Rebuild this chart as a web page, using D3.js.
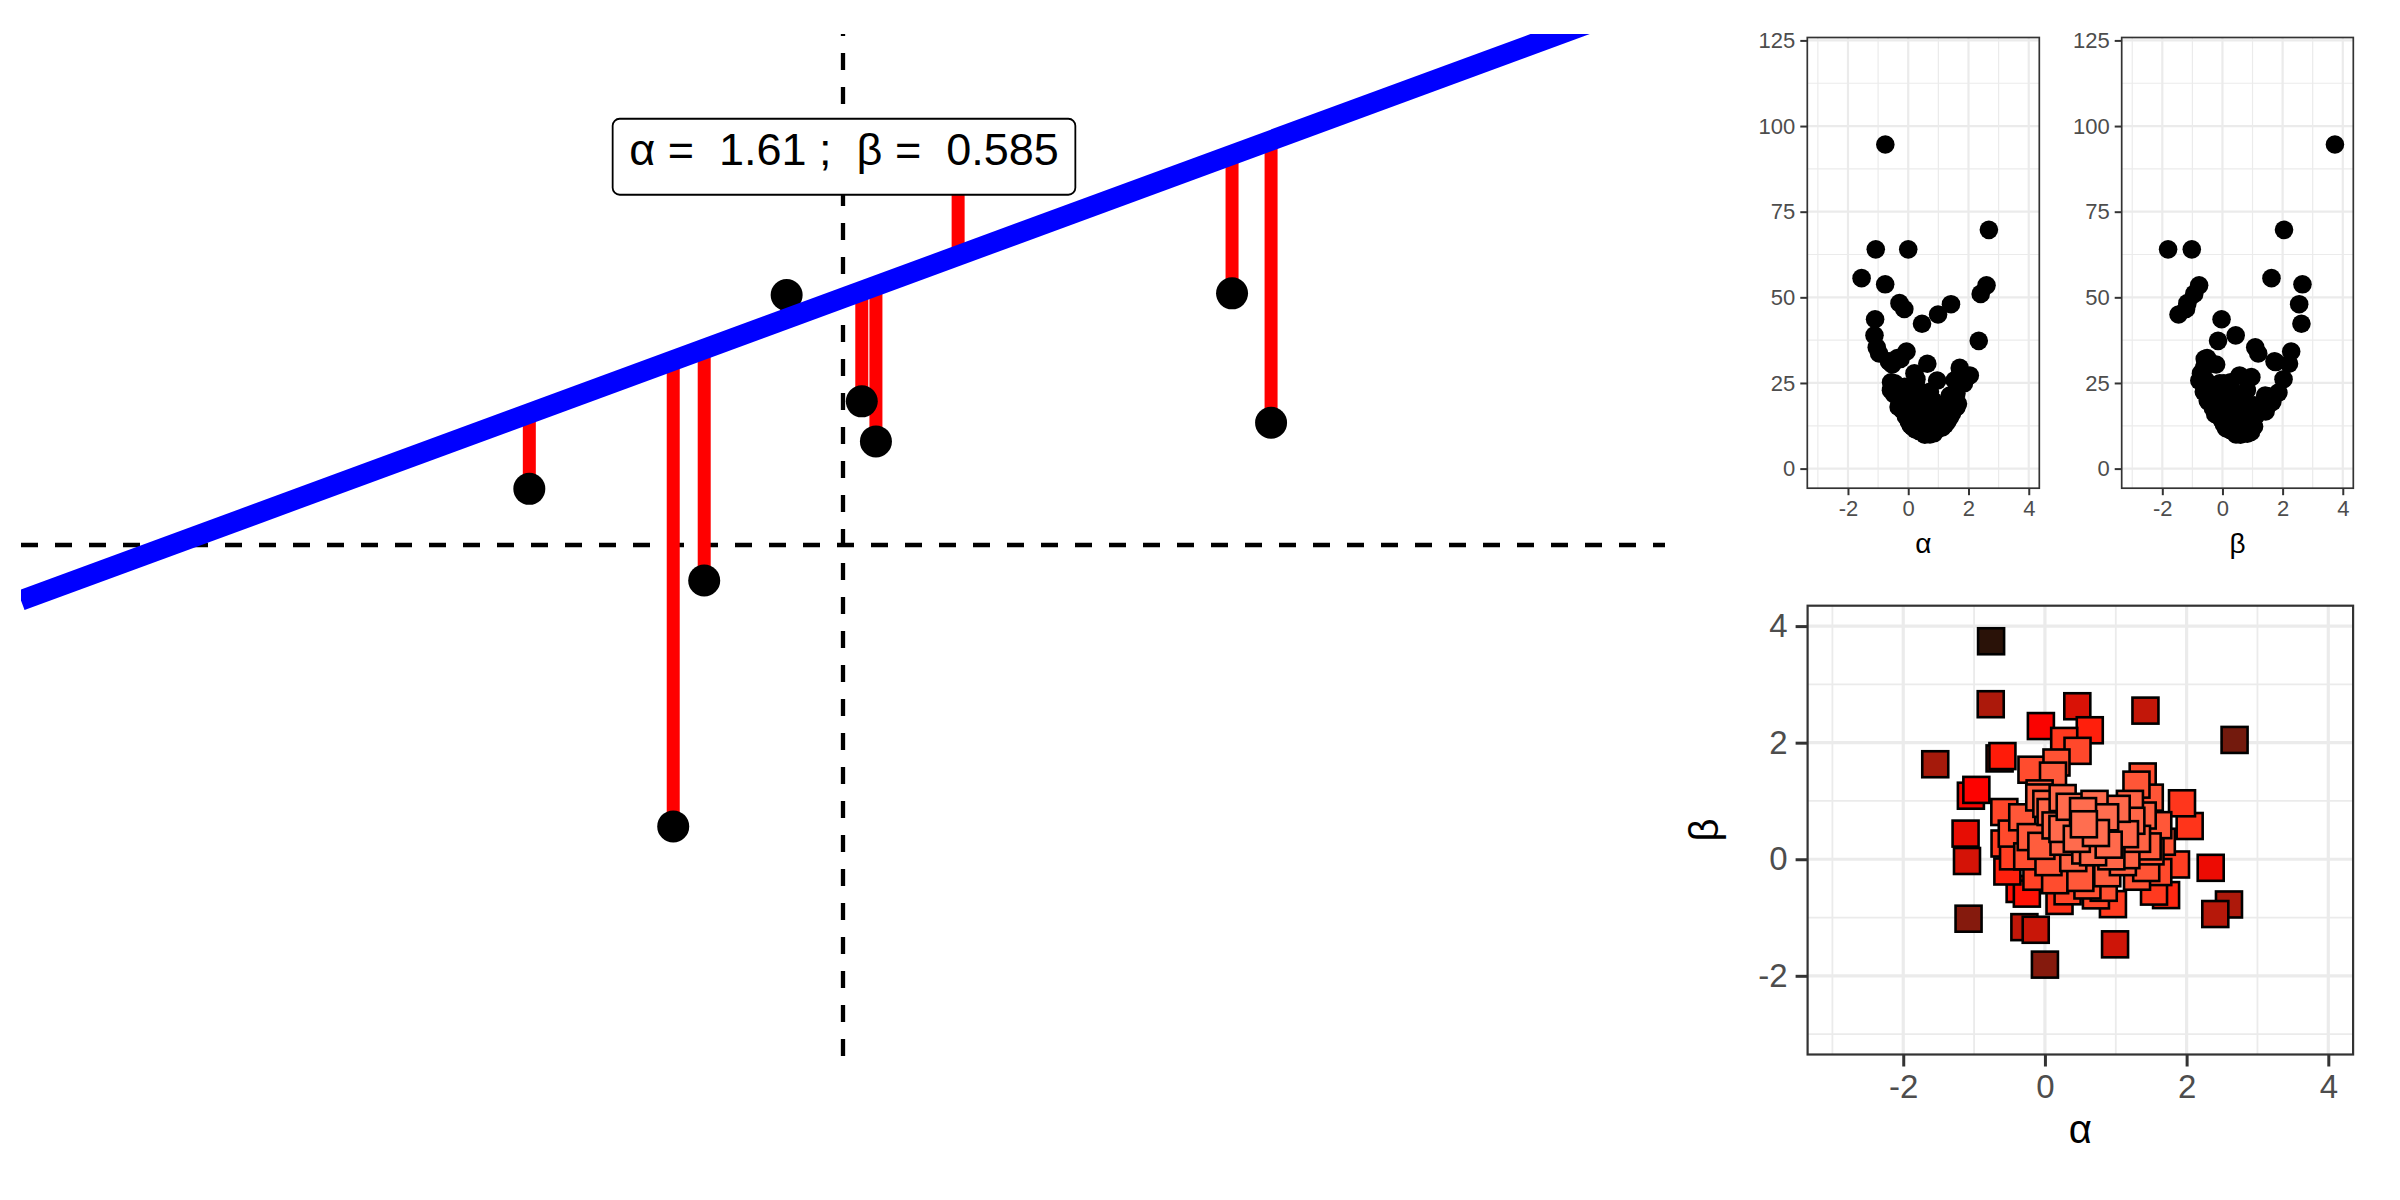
<!DOCTYPE html>
<html><head><meta charset="utf-8">
<script src="https://cdn.jsdelivr.net/npm/d3@7"></script>
<style>body{margin:0;background:#fff}svg{display:block;font-family:"Liberation Sans",Arial,sans-serif}</style>
</head><body><svg id="c" width="2400" height="1200"></svg>
<script>
// ---- main panel data ----
const obsX = [-1.286,-0.696,-0.569,-0.231,0.077,0.135,1.595,1.755,0.472];
const obsY = [0.366,-1.834,-0.231,1.629,0.936,0.675,1.640,0.797,2.58];
const fitAlpha = 1.61, fitBeta = 0.585;
const labelText = "α =  1.61 ;  β =  0.585";
// ---- parameter draws (alpha, beta) and their loss ----
const alphaDraws = [-0.76,-0.765,0.457,1.419,-0.057,0.633,2.677,0.272,0.46,-1.548,-0.6,-0.64,0.163,-0.19,0.114,1.38,1.292,-0.968,-1.045,-0.075,1.48,1.935,-0.573,0.08,0.538,1.013,-0.468,-1.12,1.6,2.043,0.262,-0.57,-1.1,0.938,1.49,1.85,2.34,-0.53,0.144,-0.357,-0.255,0.83,1.54,1.71,0.96,0.206,2.405,2.598,-1.078,-0.29,-0.13,0.99,0.0,-0.05,1.13,0.247,0.6,0.57,1.43,1.15,-0.08,0.35,0.55,0.72,0.85,1.22,1.3,0.4,0.68,0.15,-0.2,-0.32,0.25,1.1,0.88,0.5,0.32,-0.12,1.3,0.72,0.02,1.45,1.6,0.45,0.9,-0.25,0.05,1.2,0.7,-0.45,1.65,1.38];
const betaDraws = [3.74,2.66,2.625,2.55,2.285,2.213,2.047,2.03,1.86,1.63,1.77,1.73,1.66,1.536,1.435,1.42,1.28,1.19,1.09,1.13,1.057,0.96,0.81,0.81,0.826,0.865,0.44,0.44,0.585,0.57,0.3,0.27,-0.03,0.05,0.135,-0.09,-0.147,-0.21,-0.36,-0.51,-0.59,-0.49,-0.555,-0.615,-0.77,-0.715,-0.94,-0.776,-1.02,-1.165,-1.21,-1.46,-1.808,0.23,0.43,0.52,-0.45,0.15,-0.15,0.07,1.06,0.9,0.6,0.45,0.72,0.66,0.35,0.02,0.12,0.58,0.38,0.72,1.05,-0.05,-0.24,-0.32,-0.55,-0.3,-0.3,-0.62,0.95,0.22,-0.22,0.35,0.25,0.05,-0.05,0.95,0.95,0.05,0.3,0.75];
const sseDraws = [94.6,53.8,42.3,48.0,34.2,30.6,69.7,26.1,22.2,55.6,31.1,31.3,
 19.5,21.1,16.7,21.3,18.1,33.6,35.4,15.7,18.5,26.7,22.9,12.7,
 10.2,11.7,21.7,38.9,17.9,27.2,12.3,25.2,43.6,12.9,17.1,24.9,
 37.3,30.4,21.3,32.3,32.0,19.8,25.8,29.4,25.7,27.8,51.0,53.5,
 64.0,48.3,46.6,45.0,64.0,16.1,12.0,11.4,19.5,11.8,18.8,13.9,
 15.3,11.0,9.9,10.0,10.3,12.8,13.8,13.7,11.8,12.1,17.2,18.0,
 12.3,14.6,15.9,17.7,23.1,23.9,19.2,22.4,13.7,
 16.1,21.9,10.9,11.3,21.0,17.7,13.9,10.7,24.9,18.9,15.0];
const topXTicks = [-2,0,2,4];
const topYTicks = [0,25,50,75,100,125];
const botTicks = [-2,0,2,4];
const fillStops = [9.9,33,64,94.6];
const fillColors = ["#FF6E50","#FF0000","#851A0D","#2A1208"];

const svg = d3.select("#c");
const fmt = d => String(d);

// ===== main panel =====
const mx = d3.scaleLinear([-3.37,3.37],[21,1665]);
const my = d3.scaleLinear([-3.33,3.33],[1056,34]);
svg.append("clipPath").attr("id","mclip").append("rect").attr("x",21).attr("y",34).attr("width",1644).attr("height",1022);
const mg = svg.append("g").attr("clip-path","url(#mclip)");
mg.append("line").attr("x1",mx(-3.37)).attr("x2",mx(3.37)).attr("y1",my(0)).attr("y2",my(0))
  .attr("stroke","#000").attr("stroke-width",4.3).attr("stroke-dasharray","17,17");
mg.append("line").attr("x1",mx(0)).attr("x2",mx(0)).attr("y1",my(-3.33)).attr("y2",my(3.33))
  .attr("stroke","#000").attr("stroke-width",4.3).attr("stroke-dasharray","17,17");
const obs = obsX.map((x,i)=>({x,y:obsY[i]}));
mg.selectAll("line.res").data(obs).join("line").attr("class","res")
  .attr("x1",d=>mx(d.x)).attr("x2",d=>mx(d.x)).attr("y1",d=>my(d.y)).attr("y2",d=>my(fitAlpha+fitBeta*d.x))
  .attr("stroke","#FF0000").attr("stroke-width",13);
mg.selectAll("circle.obs").data(obs).join("circle").attr("class","obs")
  .attr("cx",d=>mx(d.x)).attr("cy",d=>my(d.y)).attr("r",16).attr("fill","#000");
mg.append("line").attr("x1",mx(-3.37)).attr("x2",mx(3.37))
  .attr("y1",my(fitAlpha+fitBeta*-3.37)).attr("y2",my(fitAlpha+fitBeta*3.37))
  .attr("stroke","#0000FF").attr("stroke-width",20.5);
// label
const labY = 2.53;
const lg = svg.append("g");
const lt = lg.append("text").attr("x",mx(0)+1).attr("y",my(labY)+8).attr("text-anchor","middle")
  .attr("font-size",45).attr("fill","#000").attr("xml:space","preserve").style("white-space","pre").text(labelText);
const tw = lt.node().getComputedTextLength();
lg.insert("rect","text").attr("x",mx(0)+1-tw/2-16.5).attr("y",my(labY)-38).attr("width",tw+33).attr("height",76)
  .attr("rx",7).attr("ry",7).attr("fill","#fff").attr("stroke","#000").attr("stroke-width",1.8);

// ===== helpers for bw panels =====
function panel(g, xs, ys, o){
  const [x0,x1]=xs.range(), [y0,y1]=ys.range();
  g.append("rect").attr("x",x0).attr("y",y1).attr("width",x1-x0).attr("height",y0-y1).attr("fill","#fff");
  o.xMinor.forEach(v=>g.append("line").attr("x1",xs(v)).attr("x2",xs(v)).attr("y1",y1).attr("y2",y0).attr("stroke","#EBEBEB").attr("stroke-width",o.minW));
  o.yMinor.forEach(v=>g.append("line").attr("y1",ys(v)).attr("y2",ys(v)).attr("x1",x0).attr("x2",x1).attr("stroke","#EBEBEB").attr("stroke-width",o.minW));
  o.xTicks.forEach(v=>g.append("line").attr("x1",xs(v)).attr("x2",xs(v)).attr("y1",y1).attr("y2",y0).attr("stroke","#EBEBEB").attr("stroke-width",o.majW));
  o.yTicks.forEach(v=>g.append("line").attr("y1",ys(v)).attr("y2",ys(v)).attr("x1",x0).attr("x2",x1).attr("stroke","#EBEBEB").attr("stroke-width",o.majW));
}
function axes(g, xs, ys, o){
  const [x0,x1]=xs.range(), [y0,y1]=ys.range();
  g.append("rect").attr("x",x0).attr("y",y1).attr("width",x1-x0).attr("height",y0-y1).attr("fill","none").attr("stroke","#333").attr("stroke-width",o.borderW);
  const ax = g.append("g").attr("transform",`translate(0,${y0})`).call(d3.axisBottom(xs).tickValues(o.xTicks).tickFormat(fmt).tickSize(o.tickLen).tickPadding(o.pad));
  const ay = g.append("g").attr("transform",`translate(${x0},0)`).call(d3.axisLeft(ys).tickValues(o.yTicks).tickFormat(fmt).tickSize(o.tickLen).tickPadding(o.pad));
  [ax,ay].forEach(a=>{a.select(".domain").remove();
    a.selectAll(".tick line").attr("stroke","#333").attr("stroke-width",o.tickW);
    a.selectAll(".tick text").attr("fill","#4D4D4D").attr("font-size",o.fs).attr("font-family","Liberation Sans, Arial, sans-serif");});
}

// ===== top panels =====
const topOpts = {xTicks:topXTicks,yTicks:topYTicks,xMinor:[-3,-1,1,3],yMinor:[12.5,37.5,62.5,87.5,112.5],minW:1.2,majW:2.2,borderW:1.7,tickLen:7,tickW:2,fs:22,pad:5};
const tyScale = d3.scaleLinear([-5.72,125.85],[488.2,37.5]);
[[alphaDraws,1807.3,2039.3,"α"],[betaDraws,2121.7,2353.3,"β"]].forEach(([vals,l,r,lab])=>{
  const xs = d3.scaleLinear([-3.35,4.35],[l,r]);
  const g = svg.append("g");
  panel(g,xs,tyScale,topOpts);
  g.selectAll("circle").data(vals).join("circle").attr("cx",d=>xs(d)).attr("cy",(d,i)=>tyScale(sseDraws[i])).attr("r",9.3).attr("fill","#000");
  axes(g,xs,tyScale,topOpts);
  g.append("text").attr("x",(l+r)/2).attr("y",553).attr("text-anchor","middle").attr("font-size",28).attr("fill","#000").text(lab);
});

// ===== bottom scatter =====
const bx = d3.scaleLinear([-3.35,4.35],[1807.6,2353.1]);
const by = d3.scaleLinear([-3.35,4.35],[1054.5,605.7]);
const botOpts = {xTicks:botTicks,yTicks:botTicks,xMinor:[-3,-1,1,3],yMinor:[-3,-1,1,3],minW:1.8,majW:3.2,borderW:2.2,tickLen:12,tickW:3,fs:33,pad:8};
const bg = svg.append("g");
panel(bg,bx,by,botOpts);
const fill = d3.scaleLinear().domain(fillStops).range(fillColors).interpolate(d3.interpolateLab).clamp(true);
const draws = alphaDraws.map((a,i)=>({a,b:betaDraws[i],s:sseDraws[i]})).sort((p,q)=>q.s-p.s);
const side = 26;
bg.selectAll("rect.sq").data(draws).join("rect").attr("class","sq")
  .attr("x",d=>bx(d.a)-side/2).attr("y",d=>by(d.b)-side/2).attr("width",side).attr("height",side)
  .attr("fill",d=>fill(d.s)).attr("stroke","#000").attr("stroke-width",2.6);
axes(bg,bx,by,botOpts);
bg.append("text").attr("x",(1807.6+2353.1)/2).attr("y",1143).attr("text-anchor","middle").attr("font-size",40).attr("fill","#000").text("α");
bg.append("text").attr("transform","translate(1718,830) rotate(-90)").attr("text-anchor","middle").attr("font-size",40).attr("fill","#000").text("β");
</script></body></html>
